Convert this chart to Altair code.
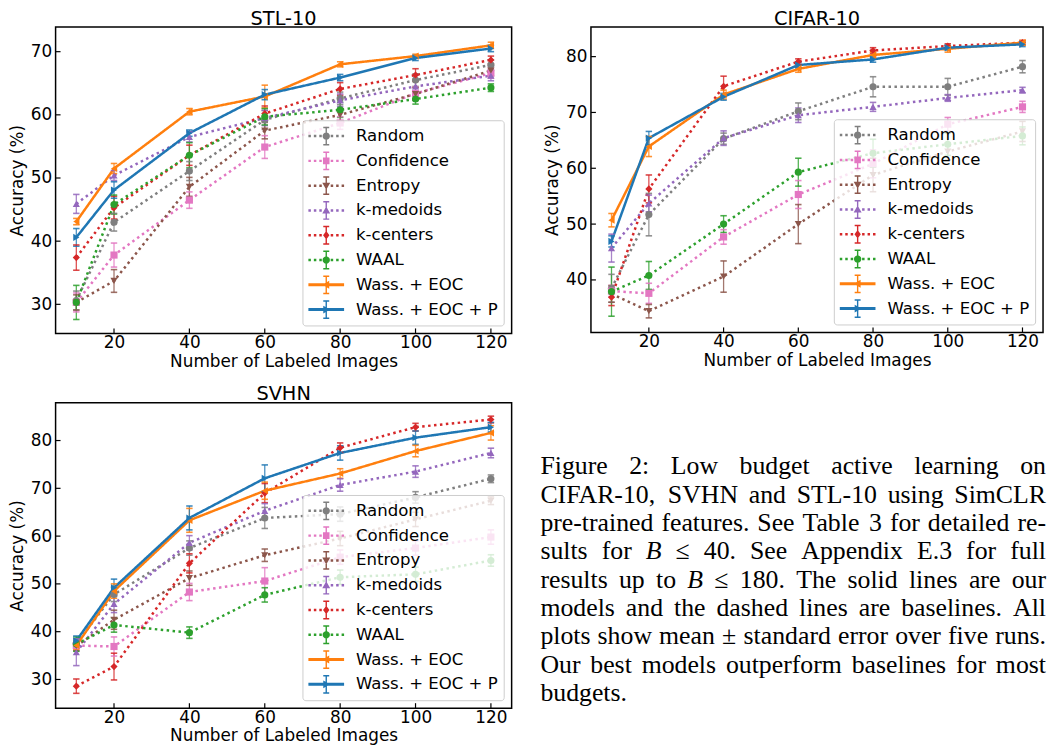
import math
import altair as alt
import pandas as pd

XS = [10, 20, 40, 60, 80, 100, 120]
XTICKS = [20, 40, 60, 80, 100, 120]
SERIES = ["Random", "Confidence", "Entropy", "k-medoids", "k-centers", "WAAL",
          "Wass. + EOC", "Wass. + EOC + P"]
COLORS = ["#7f7f7f", "#e377c2", "#8c564b", "#9467bd", "#d62728", "#2ca02c",
          "#ff7f0e", "#1f77b4"]
SHAPES = ["circle", "square", "triangle-down", "triangle-up", "diamond", "circle",
          "triangle-left", "triangle-right"]

# ---- STL-10 ----
STL_MEAN = [
    [30.6, 43.0, 51.1, 59.2, 62.6, 65.5, 67.9],
    [30.3, 37.8, 46.5, 54.9, 58.7, 63.4, 66.6],
    [30.3, 33.7, 48.6, 57.5, 60.0, 63.3, 67.0],
    [45.9, 50.4, 56.5, 59.5, 62.3, 64.5, 66.2],
    [37.4, 45.3, 53.6, 60.2, 64.1, 66.3, 68.7],
    [30.3, 45.8, 53.6, 59.7, 60.8, 62.5, 64.3],
    [43.1, 51.5, 60.5, 62.9, 68.0, 69.3, 71.0],
    [40.6, 48.1, 57.1, 63.2, 65.9, 69.0, 70.5],
]
STL_ERR = [
    [1.5, 1.4, 1.5, 1.5, 1.0, 1.0, 0.8],
    [1.5, 1.9, 1.3, 1.8, 1.0, 1.0, 0.8],
    [1.2, 1.8, 1.5, 1.3, 1.0, 1.0, 0.8],
    [1.5, 0.8, 0.8, 1.2, 1.0, 1.0, 0.8],
    [2.0, 1.8, 1.6, 1.2, 1.0, 1.0, 0.6],
    [2.7, 1.5, 2.0, 1.3, 1.2, 0.8, 0.6],
    [0.5, 0.8, 0.5, 1.8, 0.4, 0.3, 0.5],
    [1.4, 1.3, 0.5, 0.8, 0.5, 0.4, 0.5],
]
# ---- CIFAR-10 ----
CIFAR_MEAN = [
    [38.5, 51.7, 65.3, 70.2, 74.6, 74.6, 78.2],
    [38.0, 37.6, 47.7, 55.3, 60.8, 67.9, 71.0],
    [37.5, 34.4, 40.6, 50.0, 58.8, 63.0, 66.6],
    [45.7, 53.7, 65.4, 69.5, 71.0, 72.6, 74.0],
    [36.9, 56.3, 74.7, 79.1, 81.1, 81.9, 82.5],
    [37.9, 40.8, 50.0, 59.3, 62.7, 64.3, 65.8],
    [50.7, 63.9, 73.2, 77.8, 80.3, 81.4, 82.5],
    [46.9, 65.4, 72.8, 78.5, 79.5, 81.6, 82.2],
]
CIFAR_ERR = [
    [2.5, 3.8, 1.0, 1.5, 1.8, 1.5, 1.1],
    [1.0, 1.8, 1.3, 2.5, 2.5, 1.2, 1.0],
    [1.5, 1.2, 2.8, 3.5, 3.0, 1.5, 1.8],
    [2.5, 1.5, 1.3, 1.3, 0.8, 0.6, 0.5],
    [1.5, 2.5, 1.8, 0.5, 0.5, 0.4, 0.4],
    [4.4, 2.5, 1.5, 2.5, 2.5, 2.0, 1.6],
    [1.2, 1.8, 0.8, 0.6, 0.5, 0.6, 0.4],
    [1.0, 1.2, 0.6, 0.5, 0.5, 0.4, 0.4],
]
# ---- SVHN ----
SVHN_MEAN = [
    [37.5, 47.8, 57.5, 63.8, 64.6, 68.1, 72.0],
    [37.1, 36.9, 48.3, 50.6, 55.6, 57.5, 59.8],
    [37.0, 42.5, 51.2, 56.0, 59.5, 63.5, 67.4],
    [35.7, 45.8, 58.6, 65.3, 70.7, 73.5, 77.4],
    [28.6, 32.7, 54.3, 69.0, 78.5, 82.8, 84.4],
    [37.4, 41.4, 39.8, 47.7, 51.4, 52.0, 54.9],
    [37.1, 48.5, 63.3, 69.5, 73.1, 77.8, 81.6],
    [38.1, 49.2, 63.8, 72.1, 77.4, 80.6, 82.8],
]
SVHN_ERR = [
    [1.0, 1.5, 1.5, 2.2, 1.5, 1.2, 0.8],
    [1.0, 2.0, 1.8, 2.8, 1.5, 1.5, 1.5],
    [1.0, 2.0, 1.5, 1.3, 1.5, 1.5, 0.8],
    [2.8, 1.8, 1.5, 1.5, 1.3, 1.2, 1.0],
    [1.5, 2.8, 2.0, 2.0, 1.0, 0.8, 0.7],
    [1.5, 1.5, 1.2, 1.5, 1.5, 1.5, 1.2],
    [0.8, 1.5, 2.5, 1.8, 1.0, 1.2, 1.5],
    [1.0, 1.8, 2.5, 2.8, 1.5, 1.4, 1.0],
]

# caption lines; words marked with * are italic
CAPTION = [
    "Figure 2:  Low budget active learning on",
    "CIFAR-10, SVHN and STL-10 using SimCLR",
    "pre-trained features. See Table 3 for detailed re-",
    "sults for *B \u2264 40.  See Appendix E.3 for full",
    "results up to *B \u2264 180.  The solid lines are our",
    "models and the dashed lines are baselines.  All",
    "plots show mean \u00b1 standard error over five runs.",
    "Our best models outperform baselines for most",
    "budgets.",
]

# ---- styles ----
FONT = "DejaVu Sans"
SERIF = "Liberation Serif"
CAP_FS = 26
CAP_W = 510
DOT = [2.5, 3.5]
DASHES = [DOT] * 6 + [[1, 0]] * 2
WIDTHS = [2.5] * 6 + [3.2] * 2

# Times-Roman advance widths (per 1000 em) for justified caption layout
TIMES = {" ": 250, ",": 250, ".": 250, ":": 278, "-": 333, "\u00b1": 564, "\u2264": 549,
         "0": 500, "1": 500, "2": 500, "3": 500, "4": 500, "5": 500, "6": 500, "7": 500,
         "8": 500, "9": 500,
         "A": 722, "B": 667, "C": 667, "D": 722, "E": 611, "F": 556, "G": 722, "H": 722,
         "I": 333, "L": 611, "N": 722, "O": 722, "P": 556, "R": 667, "S": 556, "T": 611,
         "V": 722,
         "a": 444, "b": 500, "c": 444, "d": 500, "e": 444, "f": 333, "g": 500, "h": 500,
         "i": 278, "j": 278, "k": 500, "l": 278, "m": 778, "n": 500, "o": 500, "p": 500,
         "q": 500, "r": 333, "s": 389, "t": 278, "u": 500, "v": 500, "w": 722, "x": 500,
         "y": 500, "z": 444}
ITALIC_B = 611


def word_width(w, italic):
    if italic and w == "B":
        return ITALIC_B * CAP_FS / 1000
    return sum(TIMES.get(c, 500) for c in w) * CAP_FS / 1000


def caption_words():
    rows = []
    for li, line in enumerate(CAPTION):
        words = line.split()
        items = [(w.lstrip("*"), w.startswith("*")) for w in words]
        widths = [word_width(w, it) for w, it in items]
        last = li == len(CAPTION) - 1
        gap = 0.25 * CAP_FS if last or len(items) < 2 else (CAP_W - sum(widths)) / (len(items) - 1)
        x = 0.0
        for (w, it), wd in zip(items, widths):
            rows.append({"word": w, "italic": it, "line": li, "px": x})
            x += wd + gap
    return pd.DataFrame(rows)


def rect(x, y, w, h):
    return f"M{x:.3f},{y:.3f}h{w:.3f}v{h:.3f}h{-w:.3f}Z"


def poly(pts):
    return "M" + "L".join(f"{a:.3f},{b:.3f}" for a, b in pts) + "Z"


def circle(cx, r, n=16):
    return poly([(cx + r * math.cos(2 * math.pi * k / n), r * math.sin(2 * math.pi * k / n))
                 for k in range(n)])


# legend symbol: unit = sqrt(LEG_SIZE)/2 = 10 px; line spans -1 .. 2.6, marker at 0.8
LEG_SIZE = 400
C = 0.8
ERRB = rect(C - 0.07, -0.9, 0.14, 1.8) + rect(C - 0.3, -0.95, 0.6, 0.15) + rect(C - 0.3, 0.8, 0.6, 0.15)
DOTTED = "".join(rect(x0, -0.125, 0.25, 0.25) for x0 in [-1.0, -0.45, 0.1, 1.25, 1.8, 2.35])
SOLID = rect(-1.0, -0.15, 3.6, 0.3)
MARK = {
    "circle": circle(C, 0.37),
    "square": rect(C - 0.33, -0.33, 0.66, 0.66),
    "triangle-down": poly([(C - 0.4, -0.3), (C + 0.4, -0.3), (C, 0.4)]),
    "triangle-up": poly([(C, -0.4), (C + 0.4, 0.3), (C - 0.4, 0.3)]),
    "diamond": poly([(C, -0.42), (C + 0.32, 0), (C, 0.42), (C - 0.32, 0)]),
    "triangle-left": poly([(C - 0.4, 0), (C + 0.3, -0.4), (C + 0.3, 0.4)]),
    "triangle-right": poly([(C + 0.4, 0), (C - 0.3, 0.4), (C - 0.3, -0.4)]),
}
LEG_PATHS = [(DOTTED if i < 6 else SOLID) + ERRB + MARK[s] for i, s in enumerate(SHAPES)]


def make_df(means, errs):
    rows = []
    for s, m, e in zip(SERIES, means, errs):
        for x, v, d in zip(XS, m, e):
            rows.append({"series": s, "n": x, "acc": v, "lo": v - d, "hi": v + d})
    return pd.DataFrame(rows)


def panel(title, means, errs, ydomain, yticks, w, h):
    df = make_df(means, errs)
    xs = alt.Scale(domain=[4.5, 125.5], nice=False, zero=False)
    ys = alt.Scale(domain=ydomain, nice=False, zero=False)
    xaxis = alt.Axis(values=XTICKS, format="d", title="Number of Labeled Images",
                     grid=False, ticks=False, domain=False, labelPadding=1, titlePadding=3,
                     labelFontSize=17, titleFontSize=17, labelColor="black",
                     titleColor="black", titleFontWeight="normal", labelFont=FONT,
                     titleFont=FONT)
    yaxis = alt.Axis(values=yticks, format="d", title="Accuracy (%)",
                     grid=False, ticks=False, domain=False, labelPadding=4, titlePadding=4,
                     labelFontSize=17, titleFontSize=17, labelColor="black",
                     titleColor="black", titleFontWeight="normal", labelFont=FONT,
                     titleFont=FONT)

    def X():
        return alt.X("n:Q", scale=xs, axis=xaxis)

    def Y(f):
        return alt.Y(f"{f}:Q", scale=ys, axis=yaxis)

    def col(legend=None):
        if legend is None:
            return alt.Color("series:N", scale=alt.Scale(domain=SERIES, range=COLORS), legend=None)
        return alt.Color("series:N", scale=alt.Scale(domain=SERIES, range=COLORS), legend=legend)

    base = alt.Chart(df)
    lines = base.mark_line(strokeCap="butt").encode(
        X(), Y("acc"), color=col(),
        strokeDash=alt.StrokeDash("series:N", scale=alt.Scale(domain=SERIES, range=DASHES), legend=None),
        strokeWidth=alt.StrokeWidth("series:N", scale=alt.Scale(domain=SERIES, range=WIDTHS), legend=None),
    )
    errbars = base.mark_rule(strokeWidth=1.3, opacity=0.8).encode(
        X(), Y("lo"), y2=alt.Y2("hi:Q"), color=col())
    caplo = base.mark_point(shape="stroke", size=42, strokeWidth=1.6, filled=False, opacity=0.85).encode(
        X(), Y("lo"), color=col())
    caphi = base.mark_point(shape="stroke", size=42, strokeWidth=1.6, filled=False, opacity=0.85).encode(
        X(), Y("hi"), color=col())
    points = base.mark_point(filled=True, opacity=1, size=52, strokeWidth=0).encode(
        X(), Y("acc"), color=col(),
        shape=alt.Shape("series:N", scale=alt.Scale(domain=SERIES, range=SHAPES), legend=None))

    leg = alt.Legend(orient="bottom-right", offset=8, title=None, labelFont=FONT,
                     labelFontSize=16.7, labelColor="black", padding=6, rowPadding=5,
                     fillColor="rgba(255,255,255,0.8)", strokeColor="#cccccc",
                     cornerRadius=3, symbolStrokeWidth=0, symbolSize=LEG_SIZE,
                     labelOffset=28, symbolOpacity=1, labelLimit=300)
    legend_layer = base.transform_filter("false").mark_point(
        filled=True, opacity=1, size=LEG_SIZE, strokeWidth=0).encode(
        color=col(leg),
        shape=alt.Shape("series:N", scale=alt.Scale(domain=SERIES, range=LEG_PATHS), legend=leg))

    ytk = alt.Chart(pd.DataFrame({"acc": yticks})).mark_rule(color="black", strokeWidth=1.2).encode(
        y=Y("acc"), x=alt.value(0), x2=alt.value(5))
    xtk = alt.Chart(pd.DataFrame({"n": XTICKS})).mark_rule(color="black", strokeWidth=1.2).encode(
        x=X(), y=alt.value(h), y2=alt.value(h - 5))

    return alt.layer(lines, errbars, caplo, caphi, points, ytk, xtk, legend_layer).resolve_scale(
        color="independent", shape="independent").properties(
        width=w, height=h,
        title=alt.TitleParams(title, fontSize=19.5, fontWeight="normal", font=FONT,
                              color="black", offset=-2, anchor="middle"))


stl = panel("STL-10", STL_MEAN, STL_ERR, [25.4, 73.9], [30, 40, 50, 60, 70], 460, 309)
cifar = panel("CIFAR-10", CIFAR_MEAN, CIFAR_ERR, [30.6, 85.3], [40, 50, 60, 70, 80], 456, 308)
svhn = panel("SVHN", SVHN_MEAN, SVHN_ERR, [24.0, 87.9], [30, 40, 50, 60, 70, 80], 460, 308)

# caption, laid out as justified lines (baseline pitch 28.6 px, first baseline 73 px below plot top)
PITCH = 28.6
CAP_H = 340
y0 = -72 / PITCH
cap_df = caption_words()
cx = alt.X("px:Q", scale=alt.Scale(domain=[0, CAP_W], nice=False, zero=False), axis=None)
cy = alt.Y("line:Q", scale=alt.Scale(domain=[y0, y0 + CAP_H / PITCH], reverse=True, nice=False,
                                     zero=False), axis=None)
cap_base = alt.Chart(cap_df)
cap_roman = cap_base.transform_filter("!datum.italic").mark_text(
    align="left", baseline="alphabetic", font=SERIF, fontSize=CAP_FS, color="black"
).encode(x=cx, y=cy, text="word:N")
cap_italic = cap_base.transform_filter("datum.italic").mark_text(
    align="left", baseline="alphabetic", font=SERIF, fontSize=CAP_FS, fontStyle="italic", color="black"
).encode(x=cx, y=cy, text="word:N")
caption = alt.layer(cap_roman, cap_italic).properties(
    width=CAP_W, height=CAP_H, view=alt.ViewBackground(stroke="transparent"))

top = alt.hconcat(stl, cifar, spacing=30)
bottom = alt.hconcat(svhn, caption, spacing=27)
chart = alt.vconcat(top, bottom, spacing=13).properties(
    padding={"left": -1, "top": -4, "right": 0, "bottom": 0}).configure(
    font=FONT).configure_view(stroke="black", strokeWidth=1.5)

chart.save("out.html", embed_options={"renderer": "svg", "actions": False})
